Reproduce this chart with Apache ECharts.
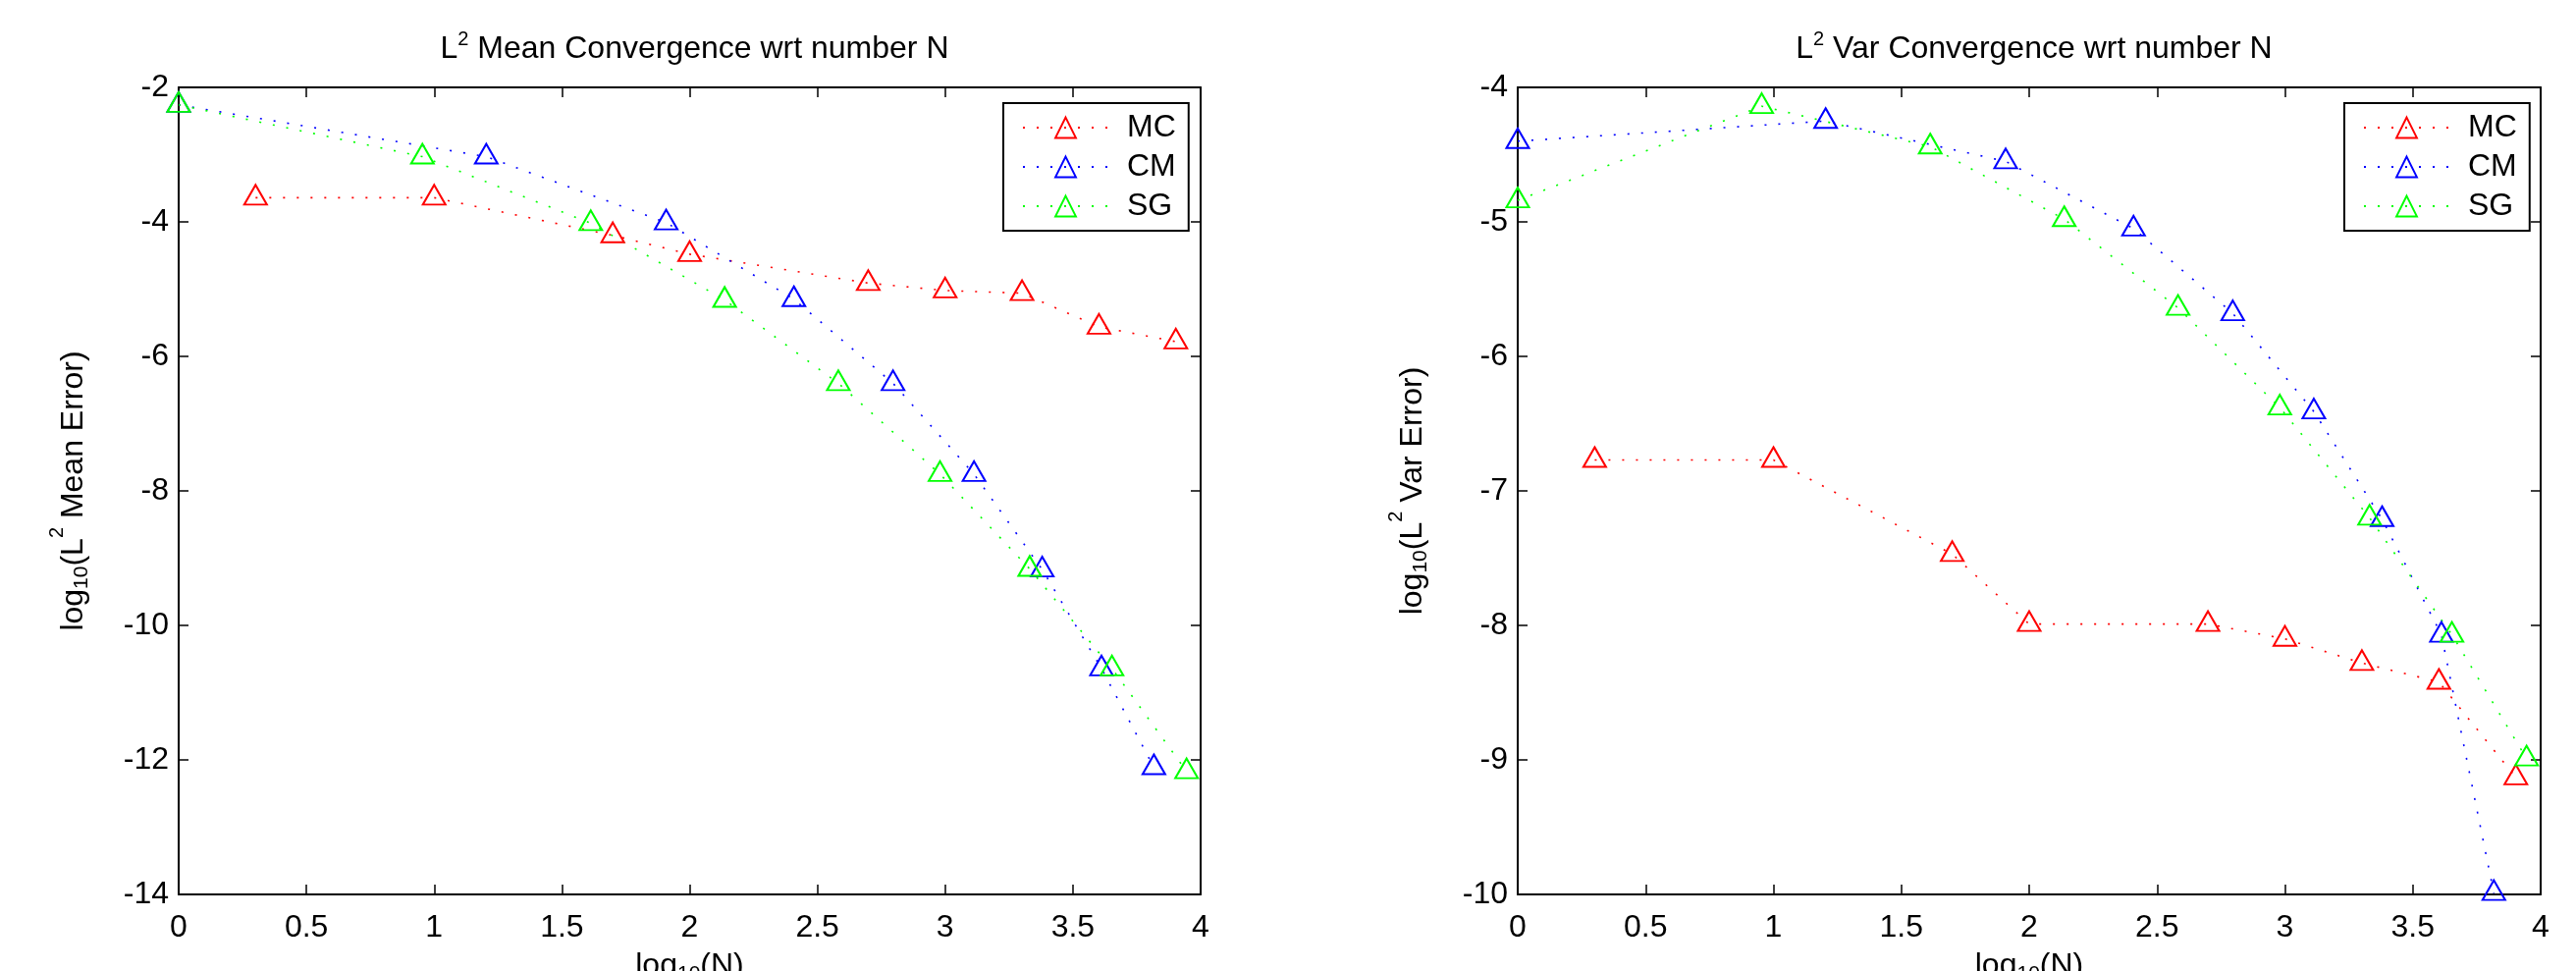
<!DOCTYPE html>
<html>
<head>
<meta charset="utf-8">
<script src="https://cdn.jsdelivr.net/npm/echarts@6/dist/echarts.min.js"></script>
<style>
html,body{margin:0;padding:0;background:#fff;}
#chart{width:2624px;height:989px;}
</style>
</head>
<body>
<div id="chart"></div>
<script>
// ---- data (log10 N on x) ----
const seriesNames = ['MC', 'CM', 'SG'];
const xMC = [0.301, 1, 1.699, 2, 2.699, 3, 3.301, 3.602, 3.903];
const xCM = [0, 1.204, 1.908, 2.408, 2.796, 3.113, 3.380, 3.612, 3.817];
const xSG = [0, 0.954, 1.613, 2.137, 2.582, 2.980, 3.331, 3.653, 3.945];

const meanMC = [-3.64, -3.64, -4.20, -4.48, -4.91, -5.02, -5.06, -5.56, -5.78];
const meanCM = [-2.26, -3.03, -4.01, -5.15, -6.40, -7.75, -9.17, -10.64, -12.11];
const meanSG = [-2.26, -3.03, -4.02, -5.16, -6.40, -7.75, -9.16, -10.64, -12.17];

const varMC = [-6.77, -6.77, -7.47, -7.99, -7.99, -8.10, -8.28, -8.42, -9.13];
const varCM = [-4.40, -4.25, -4.55, -5.05, -5.68, -6.41, -7.21, -8.07, -9.99];
const varSG = [-4.84, -4.14, -4.44, -4.98, -5.64, -6.38, -7.20, -8.07, -8.99];

const titles = ['{m|L}{s|2}{m| Mean Convergence wrt number N}', '{m|L}{s|2}{m| Var Convergence wrt number N}'];
const yNames = ['{m|log}{b|10}{m|(L}{s|2}{m| Mean Error)}', '{m|log}{b|10}{m|(L}{s|2}{m| Var Error)}'];
const xName = '{m|log}{b|10}{m|(N)}';
const yRanges = [[-14, -2, 2], [-10, -4, 1]];

// ---- styling ----
const FONT = "'Liberation Sans', Arial, Helvetica, sans-serif";
const colors = {MC: '#ff0000', CM: '#0000ff', SG: '#00ff00'};
const grids = [
  {left: 182, top: 89, width: 1041, height: 822, outerBoundsMode: 'none', containLabel: false},
  {left: 1546, top: 89, width: 1042, height: 822, outerBoundsMode: 'none', containLabel: false}
];
const legendPos = [1022, 2388];

function richText(size, supPad) {
  return {
    m: {fontSize: size, fontFamily: FONT, fontWeight: 'normal', color: '#000', lineHeight: 36, verticalAlign: 'middle'},
    s: {fontSize: 20, fontFamily: FONT, fontWeight: 'normal', color: '#000', lineHeight: 36, verticalAlign: 'middle', padding: [0, 0, supPad, 0]},
    b: {fontSize: 21, fontFamily: FONT, fontWeight: 'normal', color: '#000', lineHeight: 36, verticalAlign: 'middle', padding: [16, 0, 0, 0]}
  };
}

const axisLineStyle = {color: '#000', width: 2};
const tickStyle = {color: '#000', width: 1.5};

const xAxes = [], yAxes = [], series = [], titleArr = [], legends = [];

grids.forEach((g, i) => {
  titleArr.push({
    text: titles[i],
    left: g.left + g.width / 2,
    textAlign: 'center',
    top: 27,
    textStyle: {fontWeight: 'normal', rich: richText(32, 20)}
  });
  // bottom x axis
  xAxes.push({
    type: 'value', gridIndex: i, position: 'bottom', min: 0, max: 4, interval: 0.5,
    axisLine: {show: true, onZero: false, lineStyle: axisLineStyle},
    axisTick: {show: true, inside: true, length: 10, lineStyle: tickStyle},
    axisLabel: {show: true, margin: 18, fontSize: 32, fontFamily: FONT, color: '#000'},
    splitLine: {show: false},
    name: xName, nameLocation: 'middle', nameGap: 52,
    nameTextStyle: {rich: richText(32, 30)}
  });
  // top mirror x axis
  xAxes.push({
    type: 'value', gridIndex: i, position: 'top', min: 0, max: 4, interval: 0.5,
    axisLine: {show: true, onZero: false, lineStyle: axisLineStyle},
    axisTick: {show: true, inside: true, length: 10, lineStyle: tickStyle},
    axisLabel: {show: false}, splitLine: {show: false}
  });
  const [ymin, ymax, yint] = yRanges[i];
  yAxes.push({
    type: 'value', gridIndex: i, position: 'left', min: ymin, max: ymax, interval: yint,
    axisLine: {show: true, onZero: false, lineStyle: axisLineStyle},
    axisTick: {show: true, inside: true, length: 10, lineStyle: tickStyle},
    axisLabel: {show: true, margin: 10, fontSize: 32, fontFamily: FONT, color: '#000'},
    splitLine: {show: false},
    name: yNames[i], nameLocation: 'middle', nameGap: 89, nameRotate: 90,
    nameTextStyle: {rich: richText(32, 34)}
  });
  yAxes.push({
    type: 'value', gridIndex: i, position: 'right', min: ymin, max: ymax, interval: yint,
    axisLine: {show: true, onZero: false, lineStyle: axisLineStyle},
    axisTick: {show: true, inside: true, length: 10, lineStyle: tickStyle},
    axisLabel: {show: false}, splitLine: {show: false}
  });
  legends.push({
    left: legendPos[i], top: 105, orient: 'vertical',
    data: seriesNames,
    backgroundColor: '#fff', borderColor: '#000', borderWidth: 2,
    padding: [9, 13, 9, 19],
    itemWidth: 87, itemHeight: 26, itemGap: 8,
    textStyle: {fontSize: 32, lineHeight: 26, fontFamily: FONT, color: '#000', padding: [0, 0, 0, 14]}
  });
});

const plotData = [
  {MC: [xMC, meanMC], CM: [xCM, meanCM], SG: [xSG, meanSG]},
  {MC: [xMC, varMC], CM: [xCM, varCM], SG: [xSG, varSG]}
];

plotData.forEach((pd, i) => {
  seriesNames.forEach(name => {
    const [xs, ys] = pd[name];
    series.push({
      name: name, type: 'line',
      xAxisIndex: i * 2, yAxisIndex: i * 2,
      data: xs.map((x, k) => [x, ys[k]]),
      symbol: 'triangle', symbolSize: [23, 20], symbolOffset: [0, -3],
      showSymbol: true, clip: false,
      lineStyle: {color: colors[name], width: 1.6, type: [2, 12]},
      itemStyle: {color: 'rgba(255,255,255,0)', borderColor: colors[name], borderWidth: 2},
      emphasis: {disabled: true},
      z: 3
    });
  });
});

const chart = echarts.init(document.getElementById('chart'), null, {renderer: 'canvas'});
chart.setOption({
  animation: false,
  backgroundColor: '#fff',
  title: titleArr,
  legend: legends,
  grid: grids,
  xAxis: xAxes,
  yAxis: yAxes,
  series: series
});
</script>
</body>
</html>
